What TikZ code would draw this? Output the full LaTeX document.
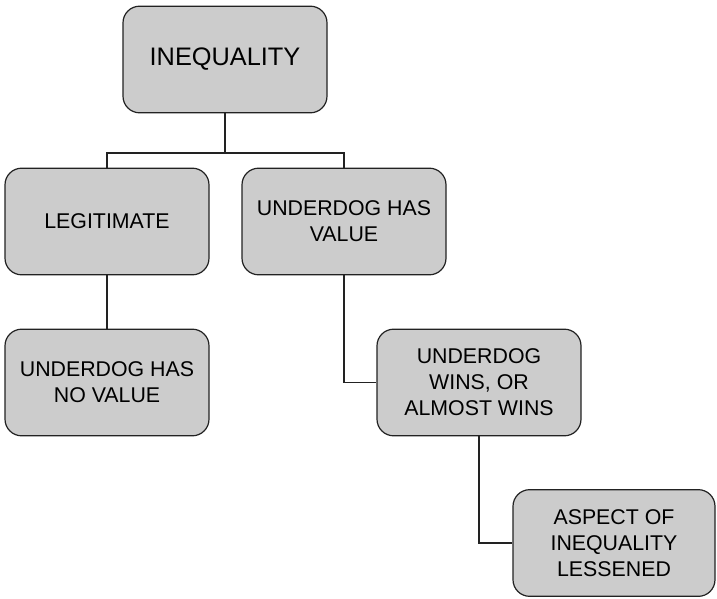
\documentclass[tikz,border=0pt]{standalone}
\usepackage{fontspec}
\setmainfont{Liberation Sans}
\definecolor{boxgray}{HTML}{CCCCCC}
\definecolor{edgegray}{HTML}{222222}
\begin{document}
\begin{tikzpicture}[x=0.75pt, y=-0.75pt,
  box/.style={draw=edgegray, fill=boxgray, rounded corners=12.5pt,
    line width=0.9pt, minimum width=153pt, minimum height=80pt,
    inner sep=0pt, align=center,
    font=\fontsize{16}{19.5}\selectfont},
  link/.style={draw=edgegray, line width=0.8pt}]
\useasboundingbox (0,0) rectangle (717,599);

% boxes of the tree
\node[box, font=\fontsize{19}{22}\selectfont] (ineq) at (225,59.5) {INEQUALITY};
\node[box] (legit) at (107,221.5) {LEGITIMATE};
\node[box] (value) at (344,221.5) {UNDERDOG HAS\\VALUE};
\node[box] (novalue) at (107,382.5) {UNDERDOG HAS\\NO VALUE};
\node[box] (wins) at (479,382.5) {UNDERDOG\\WINS, OR\\ALMOST WINS};
\node[box, minimum width=151.5pt] (aspect) at (614,543) {ASPECT OF\\INEQUALITY\\LESSENED};

% connectors
\coordinate (split) at (225,153);
\draw[link] (ineq.south) -- (split);
\draw[link] (legit.north) |- (split) -| (value.north);
\draw[link] (legit.south) -- (novalue.north);
\draw[link] (value.south) |- (wins.west);
\draw[link] (wins.south) |- (aspect.west);
\end{tikzpicture}
\end{document}
